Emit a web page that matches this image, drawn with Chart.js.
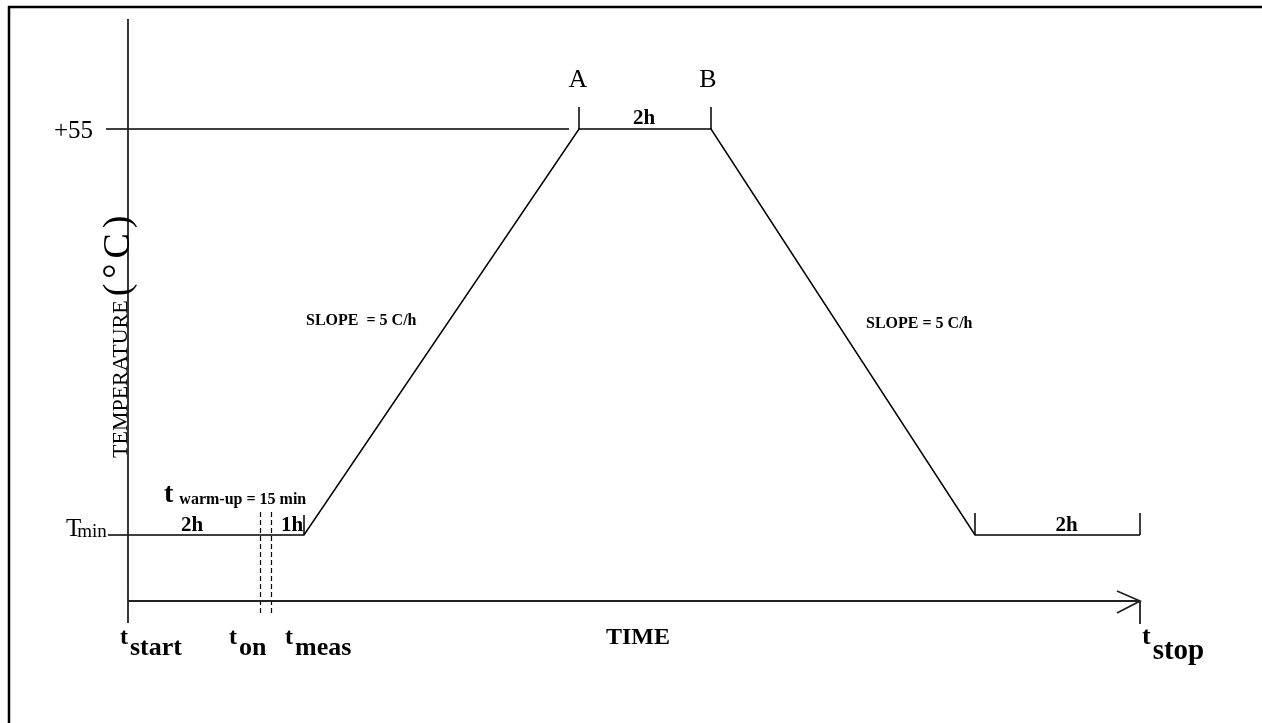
<!DOCTYPE html>
<html>
<head>
<meta charset="utf-8">
<script src="https://cdn.jsdelivr.net/npm/chart.js@4.4.1/dist/chart.umd.min.js"></script>
<style>
  html, body { margin: 0; padding: 0; background: #fff; }
  #wrap { width: 1262px; height: 723px; }
</style>
</head>
<body>
<div id="wrap"><canvas id="profileChart" width="1262" height="723"></canvas></div>
<script>
// temperature profile (x = time units along the drawing, y = temperature)
var TMIN = -40;           // stands for "Tmin"
var TMAX = 55;
var profileTime = [-2, 17.6, 45.1, 58.3, 84.7, 101.2];
var profileTemp = [TMIN, TMIN, TMAX, TMAX, TMIN, TMIN];

// +55 reference line
var refTime = [-2.2, 44.1];
var refTemp = [TMAX, TMAX];

// tick marks on the profile: [time, from, to]
var profileTicks = [
    [45.1, TMAX, 60.15],
    [58.3, TMAX, 60.15],
    [17.6, TMIN, -35.3],
    [84.7, TMIN, -34.85],
    [101.2, TMIN, -34.85]
];

// warm-up dashed markers (t_on .. t_on + 15 min)
var warmupTime = [13.25, 14.35];
var warmupTop = -34.6;
var warmupBottom = -58.25;

// axes
var yAxisMin = -55.44, yAxisMax = 80.74;
var xAxisMin = 0, xAxisMax = 101.2;

function segments(list) {
    var pts = [];
    list.forEach(function (s, i) {
        if (i > 0) pts.push({ x: s[0], y: null });
        pts.push({ x: s[0], y: s[1] });
        pts.push({ x: s[0], y: s[2] });
    });
    return pts;
}

var profilePts = profileTime.map(function (t, i) { return { x: t, y: profileTemp[i] }; });
var refPts = refTime.map(function (t, i) { return { x: t, y: refTemp[i] }; });
var tickPts = segments(profileTicks);
var warmupPts = segments(warmupTime.map(function (t) { return [t, warmupTop, warmupBottom]; }));
var axisPts = [
    { x: xAxisMin, y: yAxisMax }, { x: xAxisMin, y: -60.6 }, { x: xAxisMin, y: null },
    { x: xAxisMin, y: yAxisMin }, { x: xAxisMax, y: yAxisMin }, { x: xAxisMax, y: null },
    { x: 98.9, y: -53.1 }, { x: xAxisMax, y: yAxisMin }, { x: 98.9, y: -58.25 }, { x: 98.9, y: null },
    { x: xAxisMax, y: yAxisMin }, { x: xAxisMax, y: -60.8 }
];

function lineSet(pts, width, color, dash) {
    return {
        data: pts,
        borderColor: color,
        borderWidth: width,
        borderDash: dash || [],
        pointRadius: 0,
        fill: false,
        tension: 0,
        spanGaps: false,
        clip: false
    };
}

var SERIF = '"Liberation Serif", "Times New Roman", serif';

// base text with a subscript after it
function subText(ctx, base, sub, x, y, baseFont, subFont, drop, gap) {
    ctx.font = baseFont;
    ctx.fillText(base, x, y);
    var w = ctx.measureText(base).width;
    ctx.font = subFont;
    ctx.fillText(sub, x + w + (gap || 0), y + drop);
}

var labelsPlugin = {
    id: 'labels',
    afterDraw: function (chart) {
        var ctx = chart.ctx;
        var xs = chart.scales.x, ys = chart.scales.y;
        var px = function (v) { return xs.getPixelForValue(v); };
        var py = function (v) { return ys.getPixelForValue(v); };
        ctx.save();
        ctx.fillStyle = '#000';

        // frame (top and left edges)
        ctx.strokeStyle = '#000';
        ctx.lineWidth = 2.5;
        ctx.beginPath();
        ctx.moveTo(9, 723);
        ctx.lineTo(9, 7);
        ctx.lineTo(1262, 7);
        ctx.stroke();

        ctx.textBaseline = 'alphabetic';

        // y labels
        ctx.textAlign = 'right';
        ctx.font = '25px ' + SERIF;
        ctx.fillText('+55', 93, py(TMAX) + 9);
        ctx.textAlign = 'left';
        subText(ctx, 'T', 'min', 66, py(TMIN) + 1, '25px ' + SERIF, '19px ' + SERIF, 1, -4);

        // rotated axis title
        ctx.save();
        ctx.translate(px(0) - 1, 458);
        ctx.rotate(-Math.PI / 2);
        ctx.font = '22px ' + SERIF;
        ctx.fillText('TEMPERATURE', 0, 0);
        var tw = ctx.measureText('TEMPERATURE').width + 4;
        ctx.font = '38px ' + SERIF;
        ctx.letterSpacing = '5px';
        ctx.fillText('(\u00B0C)', tw, 2);
        ctx.letterSpacing = '0px';
        ctx.restore();

        // A / B
        ctx.textAlign = 'center';
        ctx.font = '26px ' + SERIF;
        ctx.fillText('A', px(45.1) - 1, 87);
        ctx.fillText('B', px(58.3) - 3, 87);

        // durations
        ctx.font = 'bold 21px ' + SERIF;
        ctx.fillText('2h', (px(45.1) + px(58.3)) / 2 - 1, 124);
        ctx.fillText('2h', 192, py(TMIN) - 4);
        ctx.fillText('1h', 292, py(TMIN) - 4);
        ctx.fillText('2h', (px(84.7) + px(101.2)) / 2 + 9, py(TMIN) - 4);

        // warm-up
        ctx.textAlign = 'left';
        subText(ctx, 't', 'warm-up = 15 min', 164, 502, 'bold 28px ' + SERIF, 'bold 16px ' + SERIF, 2, 6);

        // slopes
        ctx.font = 'bold 16px ' + SERIF;
        ctx.fillText('SLOPE  = 5 C/h', 306, 325);
        ctx.fillText('SLOPE = 5 C/h', 866, 328);

        // time axis
        ctx.textAlign = 'center';
        ctx.font = 'bold 24px ' + SERIF;
        ctx.fillText('TIME', 638, 644);

        ctx.textAlign = 'left';
        subText(ctx, 't', 'start', 120, 644, 'bold 24px ' + SERIF, 'bold 26px ' + SERIF, 11, 2);
        subText(ctx, 't', 'on', 229, 644, 'bold 24px ' + SERIF, 'bold 26px ' + SERIF, 11, 2);
        subText(ctx, 't', 'meas', 285, 644, 'bold 24px ' + SERIF, 'bold 26px ' + SERIF, 11, 2);
        subText(ctx, 't', 'stop', 1142, 644, 'bold 26px ' + SERIF, 'bold 29px ' + SERIF, 15, 2);

        ctx.restore();
    }
};

new Chart(document.getElementById('profileChart'), {
    type: 'line',
    data: {
        datasets: [
            lineSet(axisPts, 1.8, '#222'),
            lineSet(refPts, 1.5, '#000'),
            lineSet(profilePts, 1.5, '#000'),
            lineSet(tickPts, 1.5, '#000'),
            lineSet(warmupPts, 1.2, '#000', [5, 3])
        ]
    },
    options: {
        responsive: false,
        animation: false,
        layout: { padding: { left: 128, right: 122, top: 19, bottom: 122 } },
        plugins: { legend: { display: false }, tooltip: { enabled: false } },
        scales: {
            x: { type: 'linear', min: xAxisMin, max: xAxisMax, display: false },
            y: { type: 'linear', min: yAxisMin, max: yAxisMax, display: false }
        }
    },
    plugins: [labelsPlugin]
});
</script>
</body>
</html>
